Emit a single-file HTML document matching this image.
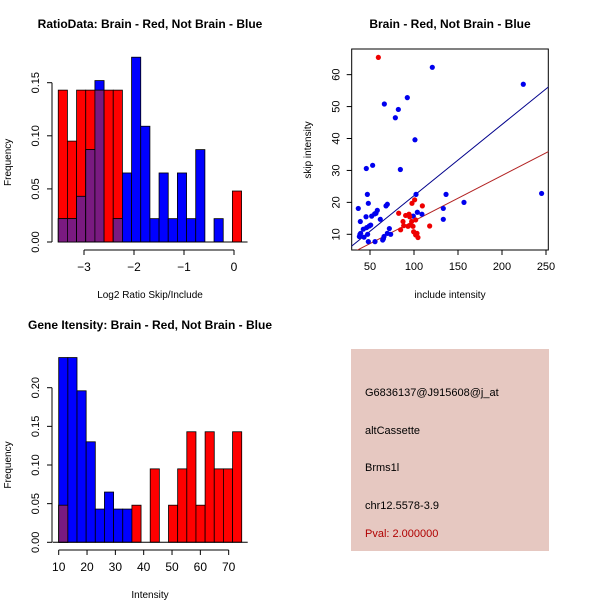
<!DOCTYPE html>
<html><head><meta charset="utf-8"><style>
body{margin:0;background:#fff}
svg{display:block}
text{font-family:"Liberation Sans",sans-serif;fill:#000}
</style></head><body>
<svg id="c" width="600" height="600" xmlns="http://www.w3.org/2000/svg">
<rect width="600" height="600" fill="#fff"/>
<g id="p1"></g>
<g id="p2"></g>
<g id="p3"></g>
<g>
<rect x="351" y="349" width="198" height="202" fill="#e6c8c1"/>
<text x="365" y="396" font-size="11">G6836137@J915608@j_at</text>
<text x="365" y="434" font-size="11">altCassette</text>
<text x="365" y="471" font-size="11">Brms1l</text>
<text x="365" y="509" font-size="11">chr12.5578-3.9</text>
<text x="365" y="537" font-size="11" style="fill:#b00000">Pval: 2.000000</text>
</g>
</svg>
<script>
// Ratio histogram data
const ratioBinStart = -3.515;
const ratioBinWidth = 0.1833;
const ratioRed = [0.143,0.095,0.143,0.143,0.143,0.143,0.143,0,0,0,0,0,0,0,0,0,0,0,0,0.048];
const ratioBlue = [0.022,0.022,0.043,0.087,0.152,0,0.022,0.065,0.174,0.109,0.022,0.065,0.022,0.065,0.022,0.087,0,0.022,0,0];
const ratioXTicks = [-3,-2,-1,0];
const ratioYTicks = ["0.00","0.05","0.10","0.15"];
// Intensity histogram data
const intBinStart = 10;
const intBinWidth = 3.23;
const intRed = [0.048,0,0,0,0,0,0,0,0.048,0,0.095,0,0.048,0.095,0.143,0.048,0.143,0.095,0.095,0.143];
const intBlue = [0.239,0.239,0.196,0.130,0.043,0.065,0.043,0.043,0,0,0,0,0,0,0,0,0,0,0,0];
const intXTicks = [10,20,30,40,50,60,70];
const intYTicks = ["0.00","0.05","0.10","0.15","0.20"];
// Scatter data
const blueX = [36.7,38.6,37.9,39.4,39,42.4,43.2,45.5,46.2,47.3,48.1,45.8,47,48.1,49.2,50.8,51.9,53,55.3,56.8,58.3,55.7,61.7,66.3,64.4,65.2,68.2,69.7,69.7,72,73.5,65.9,78.8,82.2,84.5,92.4,101.1,102.3,103.8,99.2,109,120.8,133.3,133.3,136.4,156.8,224.2,245];
const blueY = [18.1,10,9.3,10.3,14,11.6,9.1,15.5,12.1,10,7.7,30.6,22.5,19.7,12.6,12.9,15.7,31.6,16.4,16.6,17.5,7.7,14.7,50.8,8.2,8.6,18.9,19.4,10.3,11.8,10,9.3,46.5,49.1,30.3,52.8,39.6,22.5,16.9,15.7,16.3,62.3,18.1,14.7,22.5,20,57,22.8];
const redX = [59.5,82.6,84.8,87.5,88.3,90.5,93.2,94.3,95.1,95.8,97.7,98.9,99.6,100.7,101.9,101.9,103.4,104.5,109.5,117.8,97.3];
const redY = [65.4,16.6,11.4,14,12.7,15.9,12.5,16.3,15.5,12.9,19.7,12.5,10.8,20.8,14.5,9.8,10.3,9,18.9,12.6,14];
const fitSlopes = [0.223,0.142];
const fitIntercepts = [-0.2,0.0];
const scatterXTicks = [50,100,150,200,250];
const scatterYTicks = [10,20,30,40,50,60];

const NS="http://www.w3.org/2000/svg";
function mk(parent,tag,attrs){const e=document.createElementNS(NS,tag);for(const k in attrs)e.setAttribute(k,attrs[k]);parent.appendChild(e);return e;}
function txt(parent,x,y,s,size,extra){const t=mk(parent,'text',Object.assign({x:x,y:y,'font-size':size,'text-anchor':'middle'},extra||{}));t.textContent=s;return t;}

function histogram(g,cfg){
  const sx=v=>cfg.x0+(v-cfg.xv0)*cfg.xs, sy=v=>cfg.base-v*cfg.ys;
  const n=cfg.red.length;
  for(let i=0;i<n;i++){
    const a=cfg.binStart+i*cfg.binWidth, b=a+cfg.binWidth;
    const x=sx(a), w=sx(b)-x;
    const r=cfg.red[i], bl=cfg.blue[i];
    if(r>0){const e=mk(g,'rect',{x:x,y:sy(r),width:w,height:r*cfg.ys,fill:'#ff0000',stroke:'#000','stroke-width':0.8});
      }
    if(bl>0){const e=mk(g,'rect',{x:x,y:sy(bl),width:w,height:bl*cfg.ys,fill:'#0000ff',stroke:'#000','stroke-width':0.8});
      }
    if(r>0&&bl>0){const m=Math.min(r,bl);const e=mk(g,'rect',{x:x,y:sy(m),width:w,height:m*cfg.ys,fill:'#7a1a80',stroke:'#000','stroke-width':0.8});
      }
  }
  const bl=mk(g,'line',{x1:cfg.x0-6,x2:sx(cfg.binStart+n*cfg.binWidth)+6,y1:cfg.base,y2:cfg.base,stroke:'#000'});
  
  const yv=cfg.yTicks.map(Number);
  const ya=mk(g,'line',{x1:cfg.yAxisX,x2:cfg.yAxisX,y1:sy(yv[0]),y2:sy(yv[yv.length-1]),stroke:'#000'});
  
  cfg.yTicks.forEach(t=>{const y=sy(Number(t));mk(g,'line',{x1:cfg.yAxisX-5,x2:cfg.yAxisX,y1:y,y2:y,stroke:'#000'});
    const l=txt(g,cfg.yAxisX-13,y,t,11,{transform:`rotate(-90 ${cfg.yAxisX-13} ${y})`});
    });
  const xa=mk(g,'line',{x1:sx(cfg.xTicks[0]),x2:sx(cfg.xTicks[cfg.xTicks.length-1]),y1:cfg.xAxisY,y2:cfg.xAxisY,stroke:'#000'});
  
  cfg.xTicks.forEach(t=>{const x=sx(t);mk(g,'line',{x1:x,x2:x,y1:cfg.xAxisY,y2:cfg.xAxisY+5,stroke:'#000'});
    const l=txt(g,x,cfg.xAxisY+21,String(t).replace('-','\u2212'),12);
    });
  const tt=txt(g,cfg.titleX,cfg.titleY,cfg.title,12,{'font-weight':'bold'});
  
  const xt=txt(g,cfg.titleX,cfg.xLabelY,cfg.xLabel,10);
  
  const yy=(cfg.base+sy(yv[yv.length-1]))/2;
  const yt=txt(g,11,yy,'Frequency',10,{transform:`rotate(-90 11 ${yy})`});
  
}

histogram(document.getElementById('p1'),{red:ratioRed,blue:ratioBlue,binStart:ratioBinStart,binWidth:ratioBinWidth,
  x0:84,xv0:-3,xs:50,base:242,ys:1062,yAxisX:52,xAxisY:250,xTicks:ratioXTicks,yTicks:ratioYTicks,
  title:'RatioData: Brain - Red, Not Brain - Blue',titleX:150,titleY:28,xLabel:'Log2 Ratio Skip/Include',xLabelY:298});
histogram(document.getElementById('p3'),{red:intRed,blue:intBlue,binStart:intBinStart,binWidth:intBinWidth,
  x0:58.7,xv0:10,xs:2.833,base:542.3,ys:773,yAxisX:52,xAxisY:550,xTicks:intXTicks,yTicks:intYTicks,
  title:'Gene Itensity: Brain - Red, Not Brain - Blue',titleX:150,titleY:329,xLabel:'Intensity',xLabelY:598});

(function(){
  const g=document.getElementById('p2');
  const L=351.7,R=548.3,T=49,B=250;
  const sx=v=>370+(v-50)*0.88, sy=v=>234.3-(v-10)*3.193;
  const box=mk(g,'rect',{x:L,y:T,width:R-L,height:B-T,fill:'none',stroke:'#000'});
  
  const cp=mk(g,'clipPath',{id:'clipS'});mk(cp,'rect',{x:L,y:T,width:R-L,height:B-T});
  const cols=['#00008b','#b22222'];
  fitSlopes.forEach((s,i)=>{const xa=20,xb=260;
    const l=mk(g,'line',{x1:sx(xa),y1:sy(fitIntercepts[i]+s*xa),x2:sx(xb),y2:sy(fitIntercepts[i]+s*xb),stroke:cols[i],'stroke-width':1,'clip-path':'url(#clipS)'});
    });
  blueX.forEach((x,i)=>{const c=mk(g,'circle',{cx:sx(x),cy:sy(blueY[i]),r:2.6,fill:'#0000ee'});
    });
  redX.forEach((x,i)=>{const c=mk(g,'circle',{cx:sx(x),cy:sy(redY[i]),r:2.6,fill:'#ee0000'});
    });
  scatterXTicks.forEach(t=>{const x=sx(t);mk(g,'line',{x1:x,x2:x,y1:B,y2:B+5,stroke:'#000'});
    const l=txt(g,x,B+20,String(t),11);});
  scatterYTicks.forEach(t=>{const y=sy(t);mk(g,'line',{x1:L-5,x2:L,y1:y,y2:y,stroke:'#000'});
    const l=txt(g,L-12,y,String(t),11,{transform:`rotate(-90 ${L-12} ${y})`});});
  const tt=txt(g,450,28,'Brain - Red, Not Brain - Blue',12,{'font-weight':'bold'});
  
  const xt=txt(g,450,298,'include intensity',10);
  const yt=txt(g,311,150,'skip intensity',10,{transform:'rotate(-90 311 150)'});
})();
</script>
</body></html>
